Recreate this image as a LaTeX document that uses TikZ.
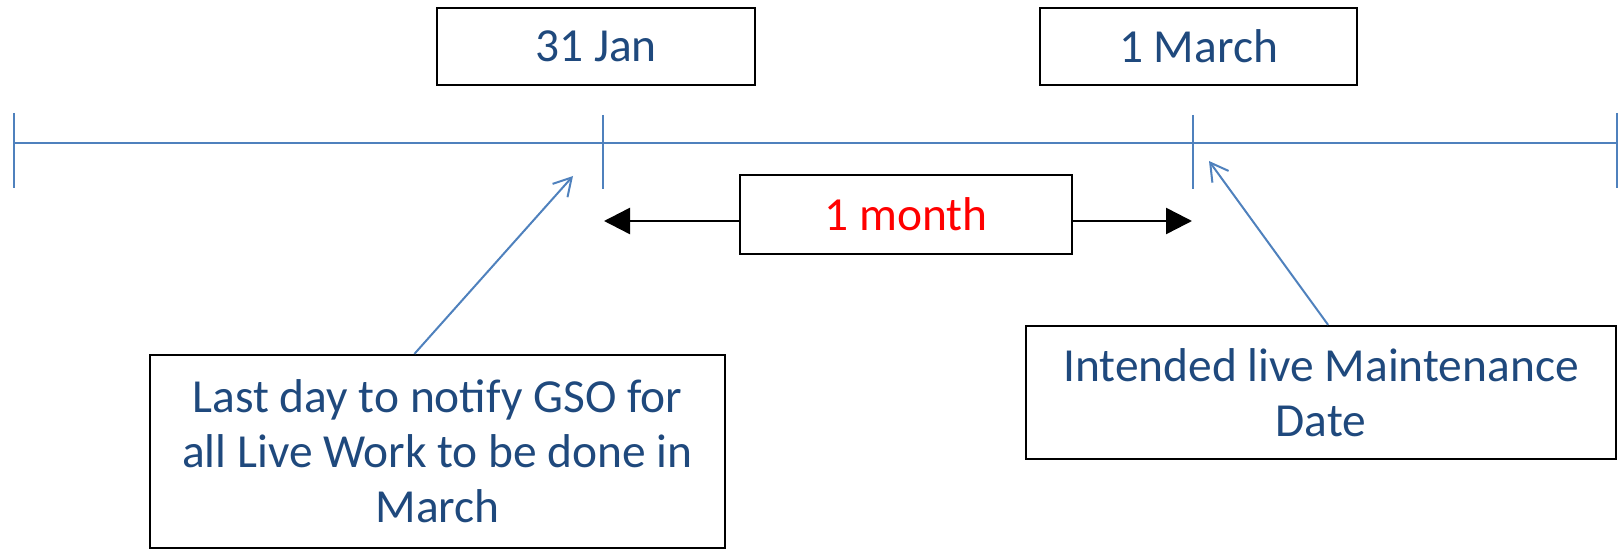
\documentclass[tikz,border=0pt]{standalone}
\usepackage{fontspec}
\setmainfont{Carlito}
\usetikzlibrary{arrows.meta,calc}
\definecolor{txtblue}{HTML}{1F497D}
\definecolor{lineblue}{HTML}{4F81BD}
\definecolor{monthred}{HTML}{FF0000}
\tikzset{
  box/.style={draw=black, line width=0.045cm, inner sep=0pt, align=center,
    text=txtblue, font=\fontsize{27}{31.3}\selectfont},
  axis/.style={draw=lineblue, line width=0.05cm},
  callout/.style={draw=lineblue, line width=0.04cm,
    -{Straight Barb[length=0.35cm, width=0.4cm, line width=0.04cm]}},
  span/.style={draw=black, line width=0.05cm,
    -{Triangle[length=0.52cm, width=0.52cm]}}
}
\begin{document}
\begin{tikzpicture}[x=0.02cm, y=-0.02cm]
\useasboundingbox (0,0) rectangle (1623,550);

% timeline and its tick marks
\coordinate (t0) at (14,143);
\coordinate (tjan) at (603,143);
\coordinate (tmar) at (1193,143);
\coordinate (t1) at (1617,143);
\draw[axis] (t0) -- (t1);
\draw[axis] ($(t0)+(0,-30)$) -- ($(t0)+(0,45)$);
\draw[axis] ($(t1)+(0,-30)$) -- ($(t1)+(0,45)$);
\draw[axis] ($(tjan)+(0,-28)$) -- ($(tjan)+(0,46)$);
\draw[axis] ($(tmar)+(0,-28)$) -- ($(tmar)+(0,46)$);

% date labels
\node[box, minimum width=0.02cm*318, minimum height=0.02cm*77] (jan) at (596,46.5) {31 Jan};
\node[box, minimum width=0.02cm*317, minimum height=0.02cm*77] (mar) at (1198.5,46.5) {1 March};

% interval between the two dates
\node[box, text=monthred, minimum width=0.02cm*332, minimum height=0.02cm*79] (month) at (906,214.5) {1 month};
\coordinate (spanl) at (604,221);
\coordinate (spanr) at (1192,221);
\draw[span] (spanl -| month.west) -- (spanl);
\draw[span] (spanr -| month.east) -- (spanr);

% explanatory notes
\node[box, minimum width=0.02cm*575, minimum height=0.02cm*193] (notify) at (437.5,451.5)
  {Last day to notify GSO for\\all Live Work to be done in\\March};
\node[box, minimum width=0.02cm*590, minimum height=0.02cm*133] (maint) at (1321,392.5)
  {Intended live Maintenance\\Date};

\coordinate (janpt) at (573,176);
\coordinate (marpt) at (1209,161);
\draw[callout] ($(notify.north west)!0.46!(notify.north east)$) -- (janpt);
\draw[callout] ($(maint.north west)!0.512!(maint.north east)$) -- (marpt);
\end{tikzpicture}
\end{document}
